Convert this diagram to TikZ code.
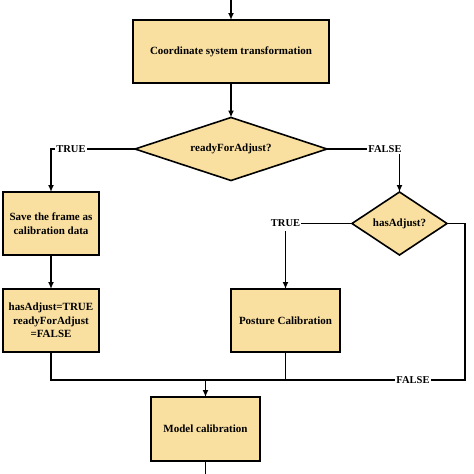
\documentclass[tikz,border=0pt]{standalone}
\usepackage{fontspec}
\setmainfont{Liberation Serif}
\usetikzlibrary{shapes.geometric,arrows.meta}
\definecolor{boxfill}{RGB}{250,224,160}
\begin{document}
\begin{tikzpicture}[x=1pt,y=-1pt,
  line width=1.6pt,
  every node/.style={font=\bfseries\fontsize{11}{13.5}\selectfont},
  procbox/.style={draw, fill=boxfill, inner sep=0pt, outer sep=0pt, align=center},
  decision/.style={draw, fill=boxfill, diamond, inner sep=0pt, outer sep=0pt},
  lbl/.style={fill=white, inner sep=1pt, font=\bfseries\fontsize{10.5}{12}\selectfont},
  arr/.style={-{Latex[length=7pt,width=6pt]}}
]
\useasboundingbox (0,0) rectangle (474,474);
\coordinate (top) at (231,0);
\node[procbox, minimum width=196pt, minimum height=63pt] (coord) at (231,51.5) {Coordinate system transformation};
\node[decision, minimum width=192pt, minimum height=63pt, aspect=3.05] (ready) at (231,149) {readyForAdjust?};
\node[decision, minimum width=95pt, minimum height=63pt, aspect=1.5] (has) at (399.5,223.5) {hasAdjust?};
\node[procbox, minimum width=96pt, minimum height=63pt] (save) at (51,223.5) {Save the frame as\\calibration data};
\node[procbox, minimum width=96pt, minimum height=63pt] (set) at (51,320.5) {hasAdjust=TRUE\\readyForAdjust\\=FALSE};
\node[procbox, minimum width=109pt, minimum height=63pt] (posture) at (285.5,320.5) {Posture Calibration};
\node[procbox, minimum width=109pt, minimum height=64pt] (model) at (205.5,429) {Model calibration};
\coordinate (bottom) at (205.5,474);
\coordinate (junction) at (205.5,380);
\coordinate (rc) at (465,380);

\draw[arr] (top) -- (coord.north);
\draw[arr] (coord.south) -- (ready.north);
\draw[arr] (ready.west) -| (save.north);
\draw[arr] (ready.east) -| (has.north);
\draw[arr] (save.south) -- (set.north);
\draw[arr] (has.west) -| (posture.north);
\draw (has.east) -| (rc) -- (set.south |- rc) -- (set.south);
\draw (posture.south) -- (posture.south |- rc);
\draw[arr] (junction) -- (model.north);
\draw (model.south) -- (bottom);

\node[lbl] (t1) at (71,149) {TRUE};
\node[lbl] (f1) at (385,149) {FALSE};
\node[lbl, inner ysep=4pt] (t2) at (285.5,223.5) {TRUE};
\node[lbl] (f2) at (413,380) {FALSE};
\end{tikzpicture}
\end{document}
